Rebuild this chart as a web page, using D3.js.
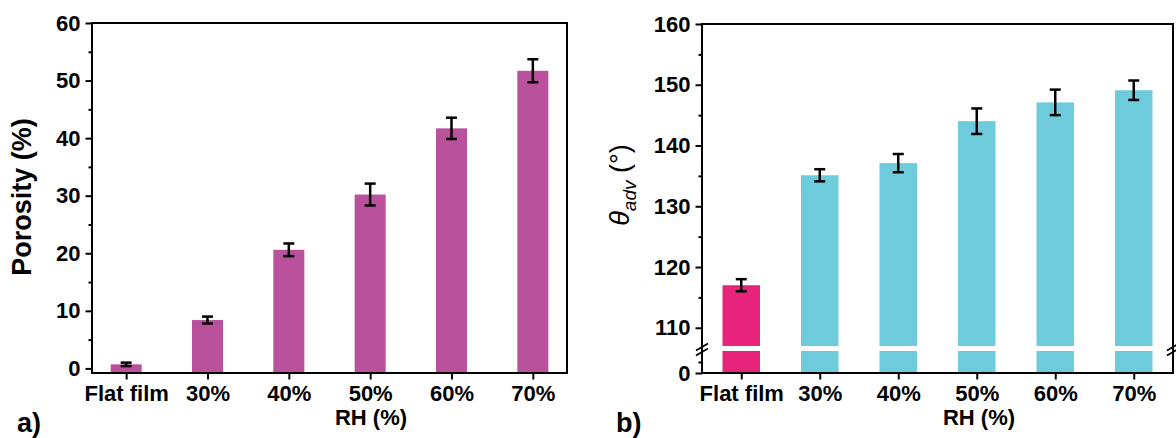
<!DOCTYPE html>
<html>
<head>
<meta charset="utf-8">
<script src="https://cdn.jsdelivr.net/npm/d3@7"></script>
<style>
  html, body { margin: 0; padding: 0; background: #fff; }
  svg { display: block; font-family: "Liberation Sans", Arial, sans-serif; }
</style>
</head>
<body>
<svg id="chart" width="1176" height="438"></svg>
<script>
// ---- data ----
const categories = ["Flat film", "30%", "40%", "50%", "60%", "70%"];
const porosity = [0.7, 8.4, 20.6, 30.2, 41.7, 51.7];
const porosityErr = [0.3, 0.6, 1.1, 1.9, 1.85, 2.0];
const theta = [117.0, 135.1, 137.1, 144.0, 147.1, 149.1];
const thetaErr = [1.0, 1.0, 1.5, 2.1, 2.1, 1.6];
const porosityTicks = [0, 10, 20, 30, 40, 50, 60];
const porosityMinor = [5, 15, 25, 35, 45, 55];
const thetaTicks = [110, 120, 130, 140, 150, 160];
const thetaMinor = [115, 125, 135, 145, 155];
const thetaLowTicks = [0];
const thetaLowMinor = [5];
const xTitle = "RH (%)";

const svg = d3.select("#chart");
const tickFont = 22;
const axisColor = "#000";

function styleAxis(g) {
  g.selectAll(".domain").remove();
  g.selectAll(".tick line").attr("stroke", axisColor).attr("stroke-width", 2);
  g.selectAll(".tick text").attr("fill", "#000").attr("font-size", tickFont).attr("font-weight", "bold");
}

// ================= Panel a =================
const A = { left: 92, right: 567, top: 23, bottom: 373 };
const xA = d3.scalePoint().domain(categories).range([A.left, A.right]).padding(0.42);
const yA = d3.scaleLinear().domain([-0.8, 60]).range([A.bottom, A.top]);
const bwA = 31;

const gA = svg.append("g");
gA.selectAll("rect.bar").data(categories).join("rect")
  .attr("class", "bar")
  .attr("x", d => xA(d) - bwA / 2)
  .attr("width", bwA)
  .attr("y", (d, i) => yA(porosity[i]))
  .attr("height", (d, i) => yA(-0.8) - yA(porosity[i]))
  .attr("fill", "#b9519d");

const errA = gA.selectAll("g.err").data(categories).join("g").attr("class", "err");
errA.append("line")
  .attr("x1", d => xA(d)).attr("x2", d => xA(d))
  .attr("y1", (d, i) => yA(porosity[i] - porosityErr[i]))
  .attr("y2", (d, i) => yA(porosity[i] + porosityErr[i]))
  .attr("stroke", "#000").attr("stroke-width", 2.5);
[-1, 1].forEach(s => {
  errA.append("line")
    .attr("x1", d => xA(d) - 5.5).attr("x2", d => xA(d) + 5.5)
    .attr("y1", (d, i) => yA(porosity[i] + s * porosityErr[i]))
    .attr("y2", (d, i) => yA(porosity[i] + s * porosityErr[i]))
    .attr("stroke", "#000").attr("stroke-width", 2.5);
});

gA.append("rect").attr("x", A.left).attr("y", A.top)
  .attr("width", A.right - A.left).attr("height", A.bottom - A.top)
  .attr("fill", "none").attr("stroke", axisColor).attr("stroke-width", 2);

gA.append("g").attr("transform", `translate(${A.left},0)`)
  .call(d3.axisLeft(yA).tickValues(porosityTicks).tickSize(6.5).tickPadding(5).tickFormat(d3.format("d")))
  .call(styleAxis);
gA.append("g").attr("transform", `translate(${A.left},0)`)
  .call(d3.axisLeft(yA).tickValues(porosityMinor).tickSize(3.5).tickFormat(""))
  .call(styleAxis);
gA.append("g").attr("transform", `translate(0,${A.bottom})`)
  .call(d3.axisBottom(xA).tickSize(6.5).tickPadding(6))
  .call(styleAxis);

gA.append("text").attr("transform", `translate(31,197) rotate(-90)`)
  .attr("text-anchor", "middle").attr("font-size", 27).attr("font-weight", "bold")
  .text("Porosity (%)");
gA.append("text").attr("x", 371).attr("y", 425)
  .attr("text-anchor", "middle").attr("font-size", 22).attr("font-weight", "bold")
  .text(xTitle);
gA.append("text").attr("x", 17).attr("y", 432)
  .attr("font-size", 27).attr("font-weight", "bold").text("a)");

// ================= Panel b =================
const B = { left: 702, right: 1173, top: 24, bottom: 373, breakHi: 346, breakLo: 351 };
const xB = d3.scalePoint().domain(categories).range([B.left, B.right]).padding(0.5);
const yUp = d3.scaleLinear().domain([107, 160]).range([B.breakHi, B.top]);
const yLow = d3.scaleLinear().domain([0, 10]).range([B.bottom, B.breakLo]);
const bwB = 37.5;
const colorB = (d, i) => i === 0 ? "#e8237b" : "#6ecbdc";

const gB = svg.append("g");
gB.selectAll("rect.up").data(categories).join("rect")
  .attr("class", "up")
  .attr("x", d => xB(d) - bwB / 2).attr("width", bwB)
  .attr("y", (d, i) => yUp(theta[i]))
  .attr("height", (d, i) => yUp(107) - yUp(theta[i]))
  .attr("fill", colorB);
gB.selectAll("rect.low").data(categories).join("rect")
  .attr("class", "low")
  .attr("x", d => xB(d) - bwB / 2).attr("width", bwB)
  .attr("y", yLow(10))
  .attr("height", yLow(0) - yLow(10))
  .attr("fill", colorB);

const errB = gB.selectAll("g.err").data(categories).join("g").attr("class", "err");
errB.append("line")
  .attr("x1", d => xB(d)).attr("x2", d => xB(d))
  .attr("y1", (d, i) => yUp(theta[i] - thetaErr[i]))
  .attr("y2", (d, i) => yUp(theta[i] + thetaErr[i]))
  .attr("stroke", "#000").attr("stroke-width", 2.5);
[-1, 1].forEach(s => {
  errB.append("line")
    .attr("x1", d => xB(d) - 5.5).attr("x2", d => xB(d) + 5.5)
    .attr("y1", (d, i) => yUp(theta[i] + s * thetaErr[i]))
    .attr("y2", (d, i) => yUp(theta[i] + s * thetaErr[i]))
    .attr("stroke", "#000").attr("stroke-width", 2.5);
});

gB.append("rect").attr("x", B.left).attr("y", B.top)
  .attr("width", B.right - B.left).attr("height", B.bottom - B.top)
  .attr("fill", "none").attr("stroke", axisColor).attr("stroke-width", 2);

gB.append("g").attr("transform", `translate(${B.left},0)`)
  .call(d3.axisLeft(yUp).tickValues(thetaTicks).tickSize(6.5).tickPadding(5).tickFormat(d3.format("d")))
  .call(styleAxis);
gB.append("g").attr("transform", `translate(${B.left},0)`)
  .call(d3.axisLeft(yUp).tickValues(thetaMinor).tickSize(3.5).tickFormat(""))
  .call(styleAxis);
gB.append("g").attr("transform", `translate(${B.left},0)`)
  .call(d3.axisLeft(yLow).tickValues(thetaLowTicks).tickSize(6.5).tickPadding(5).tickFormat(d3.format("d")))
  .call(styleAxis);
gB.append("g").attr("transform", `translate(${B.left},0)`)
  .call(d3.axisLeft(yLow).tickValues(thetaLowMinor).tickSize(3.5).tickFormat(""))
  .call(styleAxis);
gB.append("g").attr("transform", `translate(0,${B.bottom})`)
  .call(d3.axisBottom(xB).tickSize(6.5).tickPadding(6))
  .call(styleAxis);

// break marks
[B.left, B.right].forEach(xb => {
  [B.breakHi + 1, B.breakLo + 1].forEach(yb => {
    gB.append("line")
      .attr("x1", xb - 6).attr("y1", yb + 3.5)
      .attr("x2", xb + 6).attr("y2", yb - 3.5)
      .attr("stroke", "#000").attr("stroke-width", 1.8);
  });
});

const yl = gB.append("text").attr("transform", `translate(629,185) rotate(-90)`)
  .attr("text-anchor", "middle").attr("font-size", 27);
yl.append("tspan").attr("font-style", "italic").text("θ");
yl.append("tspan").attr("font-style", "italic").attr("font-size", 19).attr("dy", 7).text("adv");
yl.append("tspan").attr("dy", -7).text(" (°)");

gB.append("text").attr("x", 979).attr("y", 425)
  .attr("text-anchor", "middle").attr("font-size", 22).attr("font-weight", "bold")
  .text(xTitle);
gB.append("text").attr("x", 616).attr("y", 432)
  .attr("font-size", 27).attr("font-weight", "bold").text("b)");
</script>
</body>
</html>
